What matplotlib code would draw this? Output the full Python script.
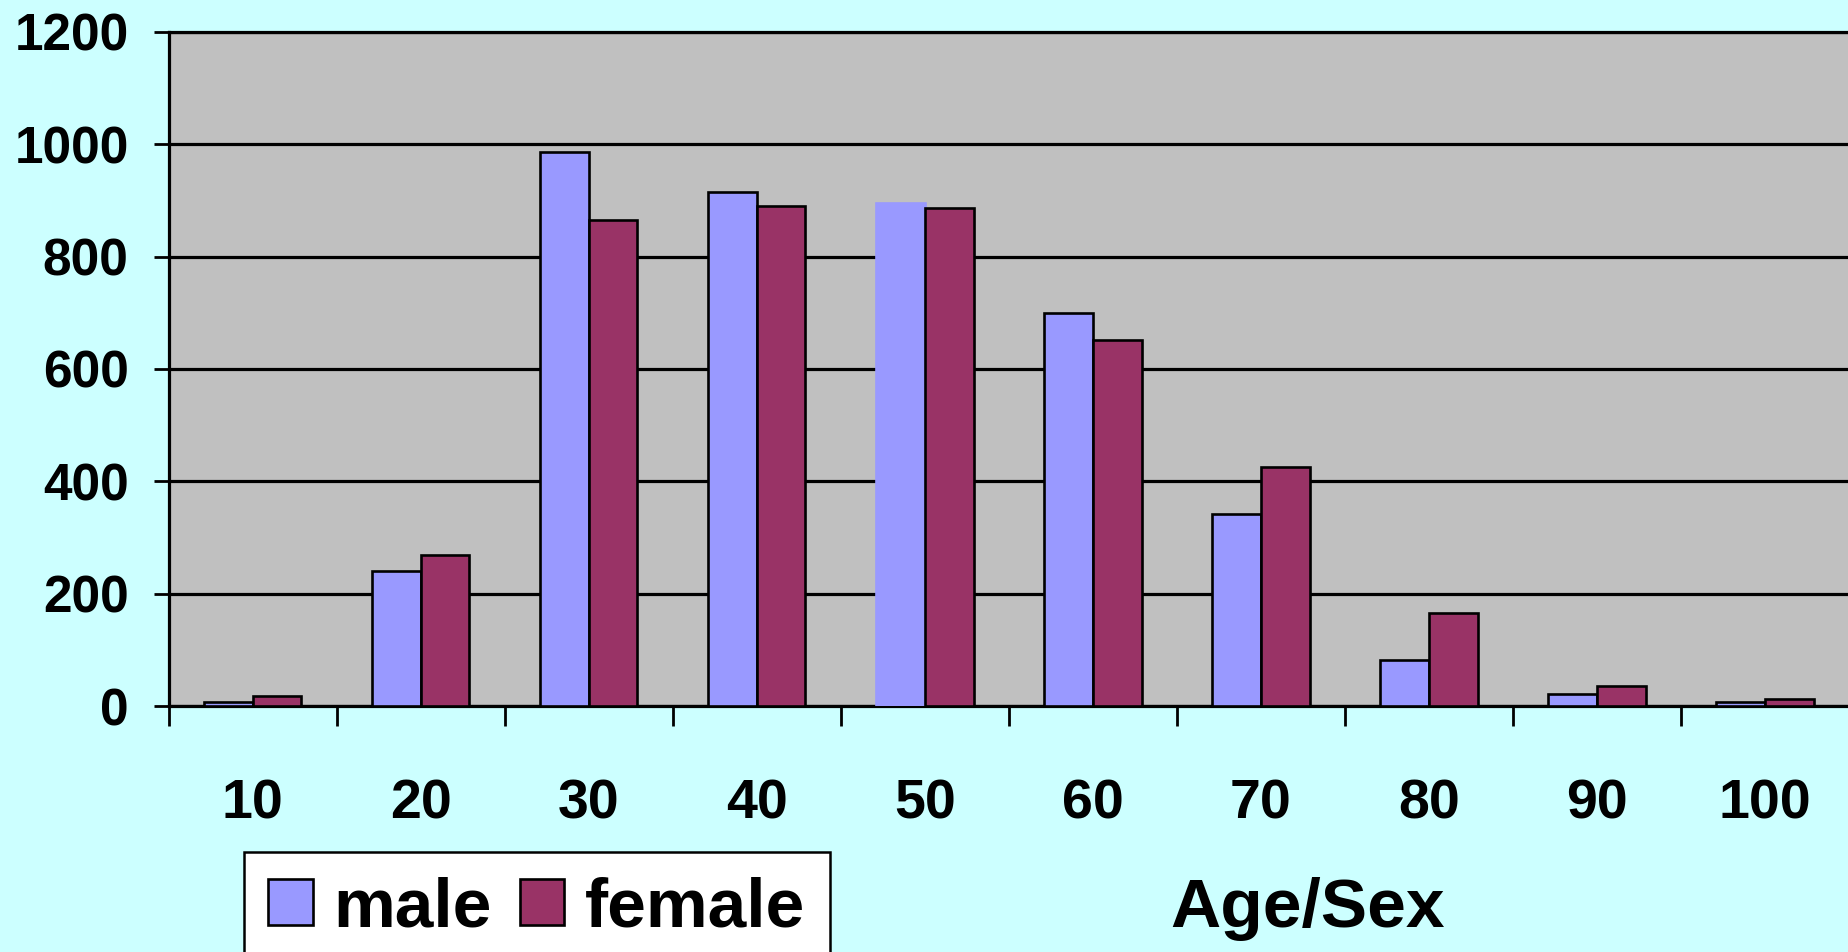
import matplotlib
matplotlib.use('Agg')
import matplotlib.pyplot as plt
import numpy as np

ages = ['10', '20', '30', '40', '50', '60', '70', '80', '90', '100']
male = [8, 240, 987, 916, 895, 700, 342, 82, 21, 8]
female = [17, 269, 866, 891, 887, 651, 426, 166, 36, 13]

plt.rcParams['font.family'] = ['Liberation Sans', 'DejaVu Sans']
plt.rcParams['font.weight'] = 'bold'

fig = plt.figure(figsize=(18.49, 9.52), dpi=100, facecolor='#CCFFFF')
ax = fig.add_axes([0.0912, 0.2584, 0.9088, 0.708])
ax.set_facecolor('#C0C0C0')

x = np.arange(len(ages))
w = 0.29
b1 = ax.bar(x - w / 2, male, w, color='#9999FF', edgecolor='black', linewidth=1.9, label='male', zorder=3)
b2 = ax.bar(x + w / 2, female, w, color='#993366', edgecolor='black', linewidth=1.9, label='female', zorder=3)
# the 50 male bar has no outline in the original
b1[4].set_edgecolor('#9999FF')

ax.set_ylim(0, 1200)
ax.set_xlim(-0.5, 9.47)
ax.set_yticks(range(0, 1201, 200))
ax.tick_params(axis='y', direction='out', length=10.8, width=2, pad=18, labelsize=37)
ax.set_xticks(x)
ax.set_xticklabels(ages)
ax.tick_params(axis='x', which='major', length=0, pad=52, labelsize=40)
ax.set_xticks(np.arange(-0.5, 10, 1), minor=True)
ax.tick_params(axis='x', which='minor', direction='out', length=14.4, width=2)

ax.grid(axis='y', color='black', linewidth=2.3, zorder=1)
ax.set_axisbelow(True)
ax.spines['right'].set_visible(False)
for s in ['left', 'bottom', 'top']:
    ax.spines[s].set_linewidth(2.3)

for lab in ax.get_xticklabels() + ax.get_yticklabels():
    lab.set_fontweight('bold')

leg = fig.legend(loc='upper left', bbox_to_anchor=(244 / 1849, 1 - 852 / 952),
                 ncol=2, fontsize=50, frameon=True, fancybox=False,
                 edgecolor='black', facecolor='white', framealpha=1,
                 handlelength=0.64, handleheight=0.64, handletextpad=0.3,
                 columnspacing=0.4, borderpad=0.35, borderaxespad=0)
leg.get_frame().set_linewidth(1.8)
for t in leg.get_texts():
    t.set_fontweight('bold')

fig.text(1308 / 1849, 1 - 927 / 952, 'Age/Sex', ha='center', va='baseline',
         fontsize=50, fontweight='bold')

plt.savefig('out.png', dpi=100, facecolor=fig.get_facecolor())
